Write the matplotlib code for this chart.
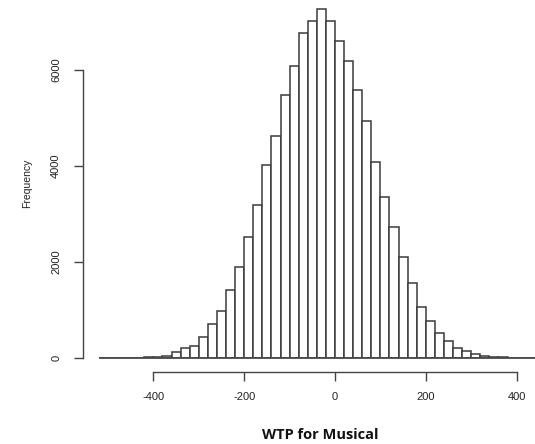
import numpy as np
from matplotlib import pyplot as plt

# histogram bins (width 20) and counts
bin_edges = np.arange(-520, 441, 20)
counts = [0, 0, 0, 0, 3, 8, 20, 40, 110, 196, 244, 425, 703, 973,
          1404, 1890, 2516, 3183, 4017, 4622, 5477, 6081, 6776, 7020,
          7263, 7020, 6603, 6199, 5574, 4935, 4080, 3350, 2724, 2106,
          1564, 1063, 765, 521, 348, 195, 139, 70, 35, 15, 6, 2, 0, 0]
x_ticks = [-400, -200, 0, 200, 400]
y_ticks = [0, 2000, 4000, 6000]

fig = plt.figure(figsize=(5.35, 4.44), dpi=100)
ax = fig.add_axes([0.1764, 0.1944, 0.8236, 0.799])

ax.bar(bin_edges[:-1], counts, width=20, align='edge',
       facecolor='white', edgecolor='#3a3a3a', linewidth=1.1)
# empty bins are drawn as a flat line at the base, like R's hist()
ax.hlines(0, bin_edges[0], bin_edges[-1], color='#4a4a4a', linewidth=1.3, clip_on=False)

ax.set_xlim(-530, 440.5)
ax.set_ylim(0, 7400)

# R-style axes: detached, only across the tick range
for side in ['top', 'right']:
    ax.spines[side].set_visible(False)
ax.spines['left'].set_position(('outward', 8.4))
ax.spines['bottom'].set_position(('outward', 10.3))
ax.spines['left'].set_bounds(0, 6000)
ax.spines['bottom'].set_bounds(-400, 400)
for side in ['left', 'bottom']:
    ax.spines[side].set_color('#444444')
    ax.spines[side].set_linewidth(1.0)

ax.set_xticks(x_ticks)
ax.set_yticks(y_ticks)
ax.set_xticklabels([str(v) for v in x_ticks], family='Liberation Sans', fontsize=8, color='#222222')
ax.set_yticklabels([str(v) for v in y_ticks], family='Liberation Sans', fontsize=8, color='#222222',
                   rotation=90, va='center')
ax.tick_params(axis='both', length=6.5, width=1.0, color='#444444')
ax.tick_params(axis='y', pad=9)
ax.tick_params(axis='x', pad=8)

ax.set_ylabel('Frequency', family='Liberation Sans', fontsize=7.5, color='#222222')
ax.yaxis.label.set_va('center')
ax.yaxis.set_label_coords(-0.152, 0.491)

ax.set_xlabel('WTP for Musical', family='Open Sans', fontweight='bold', fontsize=10.5, color='#111111')
ax.xaxis.set_label_coords(0.512, -0.198)

plt.savefig('out.png', dpi=100)
